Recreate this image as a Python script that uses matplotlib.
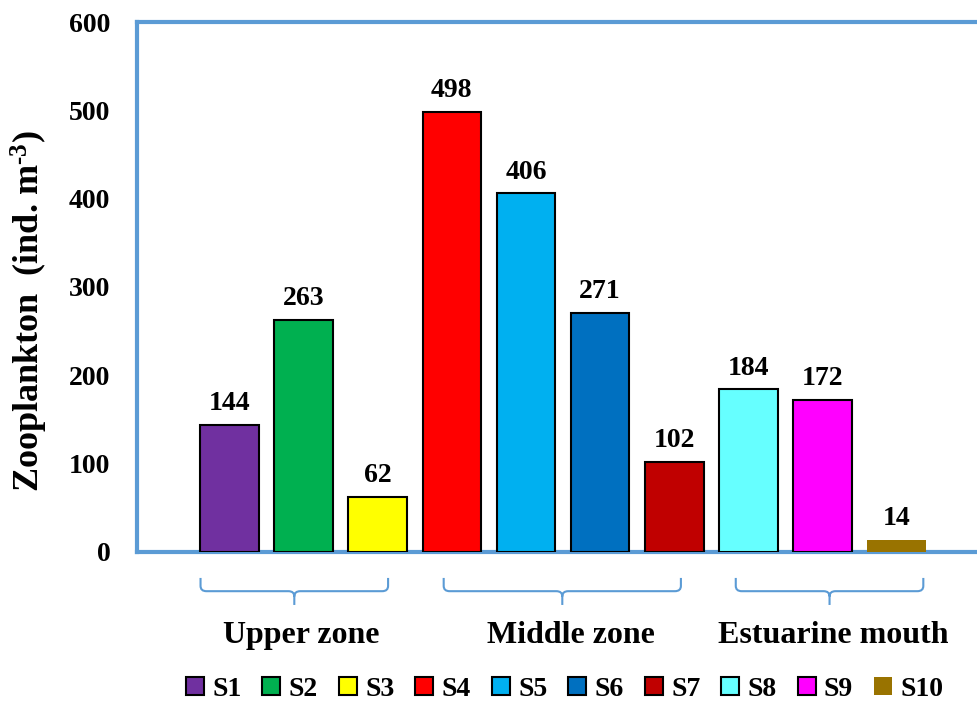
import matplotlib.pyplot as plt
import numpy as np
from matplotlib.path import Path
from matplotlib.patches import PathPatch, Patch
from matplotlib.transforms import blended_transform_factory

plt.rcParams['font.family'] = 'Liberation Serif'
plt.rcParams['font.weight'] = 'bold'
plt.rcParams['mathtext.fontset'] = 'custom'
plt.rcParams['mathtext.rm'] = 'Liberation Serif:bold'
plt.rcParams['mathtext.default'] = 'rm'

# data
stations = ['S1', 'S2', 'S3', 'S4', 'S5', 'S6', 'S7', 'S8', 'S9', 'S10']
values = [144, 263, 62, 498, 406, 271, 102, 184, 172, 14]
colors = ['#7030A0', '#00B050', '#FFFF00', '#FF0000', '#00B0F0',
          '#0070C0', '#C00000', '#66FFFF', '#FF00FF', '#997300']
zones = ['Upper zone', 'Middle zone', 'Estuarine mouth']
yticks = [0, 100, 200, 300, 400, 500, 600]

# brace spans in bar-index units (layout)
brace_spans = [(-0.39, 2.14), (2.89, 6.09), (6.83, 9.36)]
label_x = [0.97, 4.6, 8.15]

spine_col = '#5B9BD5'

fig = plt.figure(figsize=(9.77, 7.01), dpi=100)
ax = fig.add_axes([0.140, 0.2126, 0.865, 0.756])

x = np.arange(len(stations))
edges = ['black'] * 9 + ['none']
ax.bar(x, values, width=0.79, color=colors, edgecolor=edges,
       linewidth=1.5, zorder=3)

for xi, v in zip(x, values):
    ax.text(xi, v + 10, str(v), ha='center', va='bottom',
            fontsize=20, fontweight='bold')

ax.set_xlim(-1.25, 10.15)
ax.set_ylim(0, 600)
ax.set_yticks(yticks)
ax.set_xticks([])
ax.tick_params(axis='y', length=0, pad=19, labelsize=20)
for lbl in ax.get_yticklabels():
    lbl.set_fontweight('bold')

for s in ['left', 'top', 'bottom']:
    ax.spines[s].set_color(spine_col)
    ax.spines[s].set_linewidth(3)
ax.spines['right'].set_visible(False)

ax.set_ylabel(r'Zooplankton  (ind. m$^{\text{-3}}$)', fontsize=26,
              fontweight='bold', va='center')
ax.yaxis.set_label_coords(-0.127, 0.455)

# braces under the zones
trans = blended_transform_factory(ax.transData, ax.transAxes)
y_top, y_mid, y_tip = -0.049, -0.074, -0.100
r = 0.08
for (x0, x1), lx, name in zip(brace_spans, label_x, zones):
    xc = (x0 + x1) / 2
    verts = [(x0, y_top), (x0, y_mid + 0.01), (x0, y_mid), (x0 + r, y_mid),
             (xc - r, y_mid), (xc, y_mid), (xc, y_mid - 0.01), (xc, y_tip),
             (xc, y_mid - 0.01), (xc, y_mid), (xc + r, y_mid),
             (x1 - r, y_mid), (x1, y_mid), (x1, y_mid + 0.01), (x1, y_top)]
    codes = [Path.MOVETO, Path.LINETO, Path.CURVE3, Path.CURVE3,
             Path.LINETO, Path.CURVE3, Path.CURVE3, Path.LINETO,
             Path.MOVETO, Path.CURVE3, Path.CURVE3,
             Path.LINETO, Path.CURVE3, Path.CURVE3, Path.LINETO]
    ax.add_patch(PathPatch(Path(verts, codes), transform=trans, fill=False,
                           edgecolor=spine_col, linewidth=1.5, clip_on=False))
    ax.text(lx, -0.158, name, transform=trans, ha='center',
            va='center', fontsize=23, fontweight='bold')

handles = [Patch(facecolor=c, edgecolor=e, linewidth=1.5)
           for c, e in zip(colors, edges)]
fig.legend(handles, stations, loc='center', bbox_to_anchor=(0.578, 0.017),
           ncol=10, frameon=False, handlelength=0.65,
           handleheight=0.65, handletextpad=0.3, columnspacing=0.75,
           prop={'weight': 'bold', 'size': 20})

fig.savefig('out.png', dpi=100)
